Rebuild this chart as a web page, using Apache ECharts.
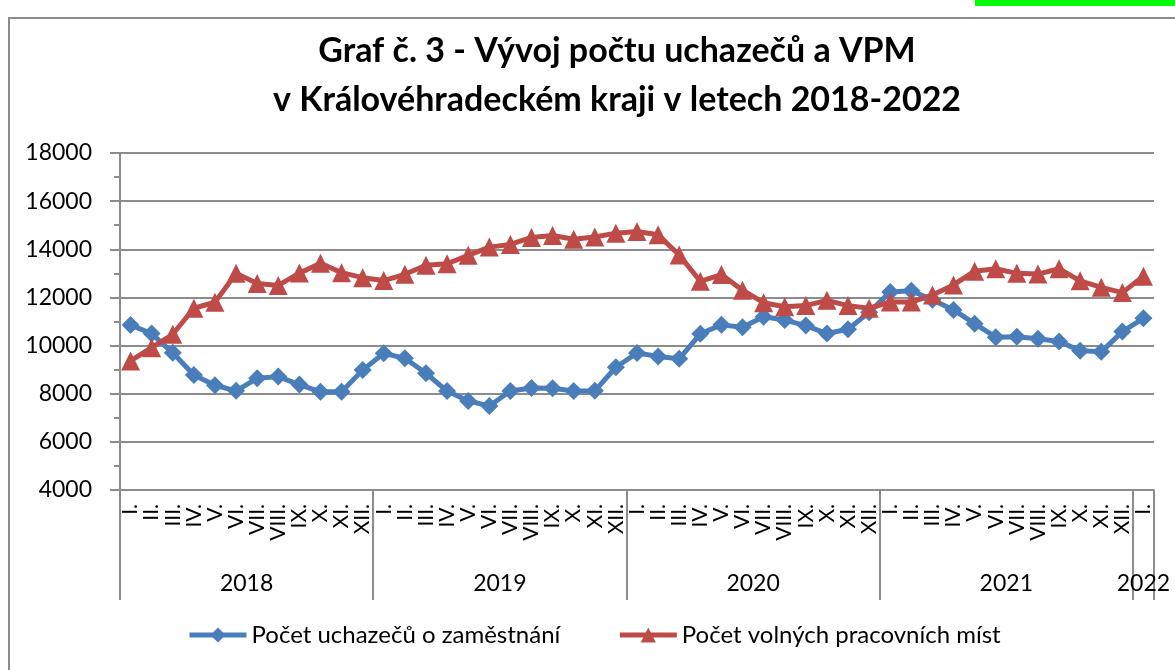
<!DOCTYPE html>
<html>
<head>
<meta charset="utf-8">
<script src="https://cdn.jsdelivr.net/npm/echarts@6/dist/echarts.min.js"></script>
<style>
  html, body { margin: 0; padding: 0; background: #fff; }
  #chart { width: 1175px; height: 670px; }
</style>
</head>
<body>
<div id="chart"></div>
<script>
// mesice na ose x
const months = ['I.', 'II.', 'III.', 'IV.', 'V.', 'VI.', 'VII.', 'VIII.', 'IX.', 'X.', 'XI.', 'XII.']
const years = ['2018', '2019', '2020', '2021', '2022']
const monthsPerYear = [12, 12, 12, 12, 1]

// Počet uchazečů o zaměstnání
const uchazeci = [
  10850, 10500, 9700, 8780, 8350, 8120, 8640, 8710, 8380, 8080, 8080, 8980,
  9680, 9470, 8850, 8110, 7700, 7490, 8110, 8240, 8230, 8110, 8120, 9100,
  9690, 9550, 9450, 10490, 10860, 10760, 11200, 11060, 10830, 10500, 10680, 11380,
  12230, 12280, 11900, 11480, 10910, 10350, 10370, 10280, 10170, 9790, 9740, 10580,
  11130
]

// Počet volných pracovních míst
const volnaMista = [
  9360, 9910, 10470, 11550, 11800, 13000, 12580, 12500, 13010, 13420, 13030, 12820,
  12700, 12960, 13340, 13400, 13750, 14090, 14200, 14490, 14570, 14420, 14510, 14670,
  14740, 14600, 13760, 12670, 12950, 12300, 11780, 11610, 11660, 11880, 11660, 11550,
  11810, 11810, 12100, 12520, 13090, 13190, 13000, 12970, 13190, 12690, 12420, 12200,
  12880
]

const yTicks = { min: 4000, max: 18000, step: 2000 }

// kategorie mesicu pro vsechny roky
const categories = []
monthsPerYear.forEach(n => {
  for (let i = 0; i < n; i++) categories.push(months[i])
})

// hranice roku a stredy popisku
const yearBounds = [0]
const yearCenters = []
monthsPerYear.forEach(n => {
  const start = yearBounds[yearBounds.length - 1]
  yearCenters.push(start + n / 2)
  yearBounds.push(start + n)
})

const font = 'Lato, "Noto Sans", sans-serif'
const gray = '#8c8c8c'

const chart = echarts.init(document.getElementById('chart'))

chart.setOption({
  animation: false,
  title: {
    text: 'Graf č. 3 - Vývoj počtu uchazečů a VPM\nv Královéhradeckém kraji v letech 2018-2022',
    left: 617,
    top: 27,
    padding: 0,
    textAlign: 'center',
    textStyle: {
      fontFamily: font,
      fontSize: 34,
      fontWeight: 'bold',
      color: '#000',
      lineHeight: 49
    }
  },
  legend: {
    left: 187,
    top: 623,
    padding: 0,
    itemWidth: 57,
    itemHeight: 19,
    itemGap: 57,
    lineStyle: { width: 5 },
    textStyle: { fontFamily: font, fontSize: 24, color: '#000' },
    data: ['Počet uchazečů o zaměstnání', 'Počet volných pracovních míst']
  },
  grid: {
    left: 120,
    right: 21,
    top: 153,
    bottom: 180
  },
  xAxis: [{
    type: 'category',
    data: categories,
    boundaryGap: true,
    axisLine: { lineStyle: { color: gray, width: 2 } },
    axisTick: {
      interval: 0,
      length: 59,
      lineStyle: { color: gray, width: 2 }
    },
    axisLabel: {
      interval: 0,
      rotate: 90,
      margin: 14,
      fontFamily: font,
      fontSize: 21,
      color: '#000'
    }
  }, {
    type: 'value',
    position: 'bottom',
    min: 0,
    max: yearBounds[yearBounds.length - 1],
    axisLine: { show: false },
    splitLine: { show: false },
    axisTick: {
      customValues: yearBounds,
      length: 110,
      lineStyle: { color: gray, width: 2 }
    },
    axisLabel: {
      customValues: yearCenters,
      margin: 82,
      fontFamily: font,
      fontSize: 23,
      color: '#000',
      formatter: v => years[yearCenters.indexOf(v)] || ''
    }
  }],
  yAxis: {
    type: 'value',
    min: yTicks.min,
    max: yTicks.max,
    interval: yTicks.step,
    axisLine: { show: true, lineStyle: { color: gray, width: 2 } },
    axisTick: { show: true, length: 10, lineStyle: { color: gray, width: 2 } },
    minorTick: { show: true, splitNumber: 2, length: 6, lineStyle: { color: gray, width: 2 } },
    splitLine: { lineStyle: { color: gray, width: 2 } },
    axisLabel: {
      margin: 28,
      fontFamily: font,
      fontSize: 23,
      color: '#000',
      formatter: v => String(v)
    }
  },
  series: [{
    name: 'Počet uchazečů o zaměstnání',
    type: 'line',
    data: uchazeci,
    symbol: 'diamond',
    symbolSize: 18,
    color: '#4a7ebb',
    lineStyle: { width: 5, join: 'round' }
  }, {
    name: 'Počet volných pracovních míst',
    type: 'line',
    data: volnaMista,
    symbol: 'triangle',
    symbolSize: 19,
    color: '#be4b48',
    lineStyle: { width: 5, join: 'round' }
  }],
  graphic: [{
    type: 'polyline',
    silent: true,
    shape: { points: [[9, 670], [9, 18], [1175, 18]] },
    style: { stroke: gray, lineWidth: 2, fill: null }
  }, {
    type: 'rect',
    silent: true,
    shape: { x: 975, y: 0, width: 200, height: 6 },
    style: { fill: '#00ff00' }
  }]
})
</script>
</body>
</html>
